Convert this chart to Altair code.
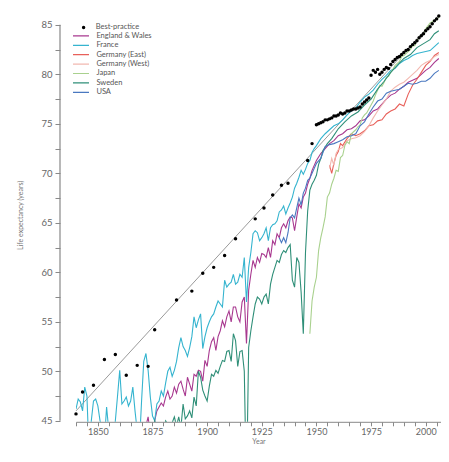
import altair as alt
import pandas as pd

# ---------------- data ----------------
series_names = ["England & Wales", "France", "Germany (East)", "Germany (West)",
                "Japan", "Sweden", "USA"]
series_colors = ["#a8388f", "#35b4cf", "#e8605a", "#f2b8b0",
                 "#a9d18e", "#2f8f78", "#4a78c0"]

ew_years = list(range(1841, 1951)) + list(range(1952, 2007, 2))
ew_values = [42.0, 42.5, 42.8, 43.0, 44.0, 42.0, 40.5, 41.5, 40.0,
             43.0, 42.5, 42.0, 41.5, 40.5, 44.0, 43.5, 42.5, 41.5, 42.0,
             43.5, 43.0, 43.5, 42.0, 41.5, 42.0, 41.8, 43.5, 43.0, 42.5,
             42.5, 42.0, 44.5, 45.4, 43.5, 43.2, 45.0, 46.0, 46.4, 46.8,
             46.5, 47.4, 48.0, 47.2, 47.5, 48.4, 47.8, 48.7, 49.0, 48.2,
             47.5, 49.4, 48.7, 48.0, 49.7, 49.5, 50.1, 50.0, 49.0, 51.1,
             50.5, 52.1, 53.0, 53.4, 52.1, 53.5, 54.1, 55.1, 54.5, 55.5,
             56.1, 55.0, 56.5, 56.5, 55.5, 55.0, 57.0, 57.5, 52.8, 58.2,
             59.8, 61.2, 60.5, 61.5, 61.0, 61.9, 61.8, 61.5, 62.5, 61.5,
             63.2, 62.8, 63.9, 63.5, 64.5, 64.9, 64.5, 65.2, 65.6, 65.5,
             64.2, 65.6, 66.9, 66.5, 67.6, 68.0, 68.9, 69.5, 70.3, 70.8,
             71.3,
             72.0, 72.5, 73.0, 73.3, 73.8, 74.0, 74.4, 74.5, 74.8, 75.3,
             75.4, 75.8, 76.3, 76.5, 77.0, 77.5, 77.9, 78.1, 78.5, 78.8,
             79.2, 79.4, 79.6, 80.0, 80.4, 80.7, 81.2, 81.6]

fr_years = list(range(1840, 1951)) + list(range(1952, 2007, 2))
fr_values = [46.2, 47.2, 46.9, 46.0, 48.4, 47.5, 41.5, 45.0, 47.0, 47.2,
             46.5, 45.0, 44.3, 43.0, 46.4, 44.0, 44.5, 42.0, 45.0, 47.5,
             50.1, 46.7, 47.0, 47.4, 46.5, 47.0, 48.4, 46.0, 44.0, 42.5,
             47.0, 51.0, 51.8, 50.1, 47.4, 45.5, 45.0, 46.7, 47.0, 48.0,
             47.5, 48.8, 50.0, 50.4, 49.5, 50.1, 51.0, 52.4, 53.4, 52.5,
             52.1, 51.5, 52.4, 53.5, 55.5, 54.4, 55.2, 55.8, 52.3, 53.5,
             54.4, 55.0, 55.5, 55.8, 56.5, 57.1, 56.8, 56.5, 59.2, 58.5,
             58.8, 59.0, 59.8, 58.8, 59.0, 59.8, 59.5, 61.5, 57.0, 60.5,
             62.0, 63.9, 64.2, 64.0, 63.2, 63.5, 63.9, 64.5, 63.2, 64.5,
             64.8, 64.9, 65.2, 66.1, 66.3, 66.7, 65.9, 66.5, 67.0, 67.6,
             68.5, 69.0, 69.6, 70.3, 69.9, 70.4, 71.0, 71.3, 72.1, 72.5,
             72.8,
             73.5, 74.0, 74.4, 74.8, 75.0, 75.4, 75.9, 76.3, 76.6, 77.2,
             77.7, 78.0, 78.4, 79.0, 79.5, 79.9, 80.4, 80.6, 81.1, 81.4,
             81.6, 81.9, 82.1, 82.2, 82.3, 82.4, 82.8, 83.2]

gde_years = list(range(1956, 1963)) + list(range(1964, 1991, 2)) + list(range(1992, 2007, 2))
gde_values = [70.8, 70.0, 71.0, 71.8, 72.2, 73.0, 72.8,
              73.5, 74.0, 73.8, 74.0, 74.3, 74.8, 74.9, 75.3, 75.4, 76.0,
              76.3, 76.5, 77.0, 76.8,
              78.0, 78.9, 79.5, 80.2, 80.9, 81.3, 81.9, 82.2]

gdw_years = list(range(1956, 1961)) + list(range(1962, 2007, 2))
gdw_values = [70.5, 71.5, 70.8, 72.0, 72.4,
              72.6, 73.3, 73.5, 73.6, 73.8, 74.2, 74.8, 75.6, 76.3, 76.9,
              77.5, 78.3, 78.7, 79.0, 79.2, 79.6, 80.0, 80.4, 80.9, 81.2,
              81.4, 81.8, 82.0]

jp_years = list(range(1947, 2007))
jp_values = [53.8, 57.1, 58.5, 59.5, 62.2, 63.5, 64.5, 65.6, 67.6, 68.0,
             68.9, 69.5, 70.3, 70.2, 71.6, 71.8, 72.8, 73.2, 73.0, 74.0,
             74.2, 74.4, 74.7, 74.9, 75.6, 75.9, 76.1, 76.5, 76.9, 77.3,
             77.9, 78.4, 78.9, 78.8, 79.2, 79.7, 79.8, 80.2, 80.5, 80.9,
             81.1, 81.3, 81.8, 81.9, 82.1, 82.3, 82.5, 82.9, 82.9, 83.4,
             83.7, 84.0, 84.0, 84.6, 84.9, 85.2, 85.3, 85.5, 85.5, 85.8]

se_years = list(range(1872, 1954)) + [1955, 1957, 1960, 1963, 1966, 1969, 1972,
                                      1975, 1978, 1981, 1984, 1987, 1990, 1993,
                                      1996, 1999, 2002, 2004, 2006]
se_values = [42.5, 43.5, 44.0, 43.0, 45.0, 44.5, 44.0, 44.3,
             43.8, 45.0, 44.7, 44.2, 44.8, 45.4, 44.5, 45.4, 44.3, 46.7,
             45.2, 45.5, 46.0, 45.3, 47.4, 46.5, 50.0, 49.4, 48.1, 47.5,
             47.0, 48.5, 49.7, 49.5, 50.1, 49.8, 50.5, 51.1, 51.0, 52.0,
             52.1, 51.0, 53.8, 53.1, 50.5, 52.0, 52.1, 50.0, 38.0, 52.4,
             54.1, 55.5, 56.8, 57.5, 57.3, 56.8, 57.5, 57.8, 56.8, 58.8,
             59.8, 60.5, 61.2, 61.0, 61.8, 62.2, 62.0, 62.5, 62.8, 59.2,
             58.5, 61.5, 61.0, 58.0, 53.8, 62.0, 66.2, 68.3, 68.9, 69.3,
             69.8, 70.9, 71.5, 72.3,
             73.0, 73.5, 74.5, 75.2, 75.8, 76.2, 76.9, 77.5, 78.5, 79.3,
             80.2, 80.9, 81.6, 82.0, 82.7, 83.1, 83.5, 84.1, 84.4]

us_years = list(range(1933, 1951)) + list(range(1952, 2007, 2))
us_values = [63.5, 63.0, 63.5, 63.0, 64.0, 65.5, 65.8, 65.5, 66.5, 67.5,
             66.8, 68.0, 68.5, 69.3, 69.5, 70.0, 70.5, 71.0,
             71.5, 72.7, 72.9, 73.0, 73.2, 73.4, 73.7, 73.8, 74.0, 74.8,
             75.2, 76.0, 76.7, 77.3, 77.5, 78.1, 78.3, 78.4, 78.5, 78.8,
             79.1, 79.0, 79.1, 79.3, 79.3, 79.6, 80.1, 80.4]

bp_years = [1840, 1843, 1848, 1853, 1858, 1863, 1868, 1873, 1876, 1886, 1893,
            1898, 1903, 1908, 1913, 1922, 1926, 1930, 1934, 1937, 1946, 1948] + \
           list(range(1950, 2007))
bp_values = [45.7, 47.9, 48.6, 51.2, 51.7, 49.6, 50.6, 50.5, 54.2, 57.2, 58.1,
             59.9, 60.5, 61.7, 63.4, 65.4, 66.5, 67.8, 68.8, 69.0, 71.3, 73.0,
             74.9, 75.0, 75.1, 75.2, 75.4, 75.4, 75.5, 75.6, 75.8, 75.8,
             75.9, 76.1, 76.0, 76.1, 76.3, 76.3, 76.4, 76.5, 76.5, 76.6,
             76.7, 77.0, 77.2, 77.4, 77.6, 79.9, 80.4, 80.2, 80.5, 80.0,
             80.2, 80.5, 80.7, 80.6, 81.0, 81.3, 81.5, 81.7, 81.8, 82.0,
             82.2, 82.4, 82.5, 82.8, 83.0, 83.2, 83.4, 83.7, 83.9, 84.1,
             84.4, 84.6, 84.8, 85.1, 85.4, 85.6, 85.9]

trend_years = [1840, 2006]
trend_values = [46.0, 86.0]

y_axis_extent = [45, 85]
x_tick_values = list(range(1840, 2008, 5))
y_tick_values = [45, 47.5, 50, 52.5, 55, 57.5, 60, 62.5, 65, 67.5, 70,
                 72.5, 75, 77.5, 80, 82.5, 85]

# ---------------- tables ----------------
rows = []
for name, yrs, vals in [("England & Wales", ew_years, ew_values),
                        ("France", fr_years, fr_values),
                        ("Germany (East)", gde_years, gde_values),
                        ("Germany (West)", gdw_years, gdw_values),
                        ("Japan", jp_years, jp_values),
                        ("Sweden", se_years, se_values),
                        ("USA", us_years, us_values)]:
    for yr, v in zip(yrs, vals):
        rows.append({"series": name, "year": yr, "value": v})
lines_df = pd.DataFrame(rows)

bp_df = pd.DataFrame({"series": "Best-practice",
                      "year": bp_years[:len(bp_values)],
                      "value": bp_values[:len(bp_years)]})
trend_df = pd.DataFrame({"year": trend_years, "value": trend_values})
axis_df = pd.DataFrame({"value": [y_axis_extent[0]], "value2": [y_axis_extent[1]]})

FONT = "Lato"

x_scale = alt.Scale(domain=[1840, 2007], nice=False, zero=False)
y_scale = alt.Scale(domain=[44.9, 86.7], nice=False, zero=False)

x_enc = alt.X("year:Q", scale=x_scale, title="Year",
              axis=alt.Axis(values=x_tick_values,
                            labelExpr="datum.value % 25 == 0 ? '' + datum.value : ''",
                            grid=False, tickSize=4, tickColor="#888",
                            domainColor="#888", labelFontSize=9,
                            labelColor="#666", labelFont=FONT, labelPadding=2,
                            titleFont=FONT, titleFontSize=7,
                            titleFontWeight="normal", titleColor="#777",
                            titlePadding=1, labelOverlap=False))
y_enc = alt.Y("value:Q", scale=y_scale, title="Life expectancy (years)",
              axis=alt.Axis(values=y_tick_values,
                            labelExpr="datum.value % 5 == 0 ? '' + datum.value : ''",
                            grid=False, domain=False, offset=16, tickSize=5,
                            tickColor="#888", labelFontSize=9.5, labelColor="#666",
                            labelFont=FONT, labelPadding=3, titleFont=FONT,
                            titleFontSize=7, titleFontWeight="normal",
                            titleColor="#777", titlePadding=17,
                            labelOverlap=False))

trend = alt.Chart(trend_df).mark_line(color="#9a9a9a", strokeWidth=1).encode(
    x=x_enc, y=y_enc)

lines = alt.Chart(lines_df).mark_line(strokeWidth=1.1, clip=True).encode(
    x=x_enc, y=y_enc,
    color=alt.Color("series:N",
                    scale=alt.Scale(domain=series_names, range=series_colors),
                    legend=alt.Legend(title=None, orient="none", legendX=-4,
                                      legendY=23.4, symbolType="stroke",
                                      symbolSize=256, symbolStrokeWidth=1.2,
                                      labelFontSize=7.5, labelColor="#555",
                                      labelFont=FONT, clipHeight=9,
                                      rowPadding=0.4, labelOffset=6.4,
                                      padding=0)))

points = alt.Chart(bp_df).mark_point(filled=True, size=12, color="black",
                                     opacity=1).encode(
    x=x_enc, y=y_enc,
    shape=alt.Shape("series:N",
                    scale=alt.Scale(domain=["Best-practice"], range=["circle"]),
                    legend=alt.Legend(title=None, orient="none", legendX=3.85,
                                      legendY=14.9, symbolSize=12,
                                      symbolFillColor="black",
                                      symbolStrokeColor="black",
                                      symbolStrokeWidth=0, labelFontSize=7.5,
                                      labelColor="#555", labelFont=FONT,
                                      clipHeight=9, labelOffset=8.3,
                                      padding=0)))

yrule = alt.Chart(axis_df).mark_rule(color="#888", strokeWidth=1.2).encode(
    x=alt.value(-16), y=y_enc, y2="value2:Q")

chart = alt.layer(trend, lines, points, yrule).properties(
    width=365, height=413.8,
    autosize=alt.AutoSizeParams(type="none"),
    padding={"left": 68, "top": 0, "right": 0, "bottom": 28},
).configure_view(stroke=None)

chart.save("out.html", embed_options={"renderer": "svg", "actions": False})
